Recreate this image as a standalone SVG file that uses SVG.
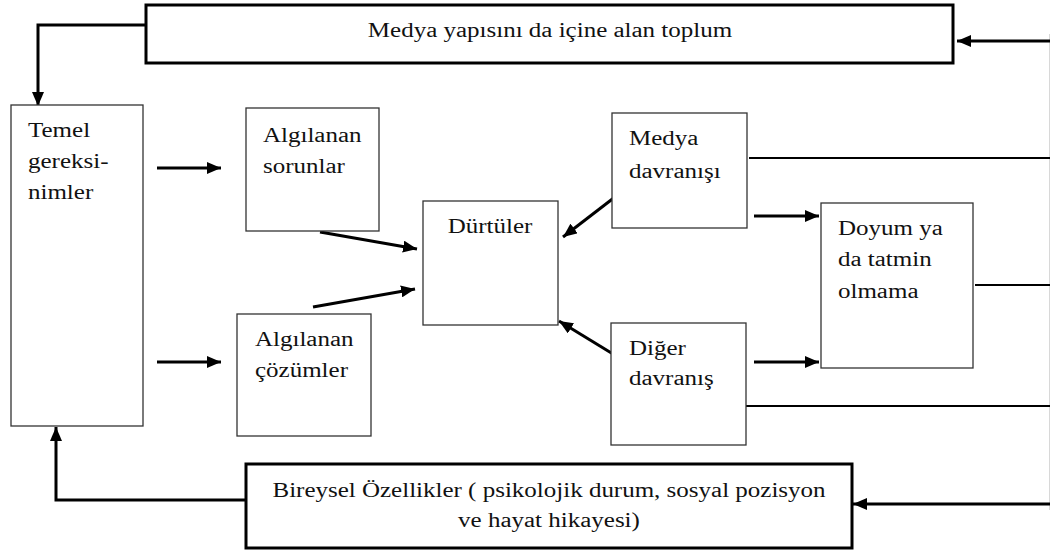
<svg xmlns="http://www.w3.org/2000/svg" width="1050" height="552" viewBox="0 0 1050 552">
<style>
.bg{fill:#ffffff}
.box{fill:#ffffff;stroke:#333333;stroke-width:1.3}
.bigbox{fill:#ffffff;stroke:#000000;stroke-width:3}
.t{font-family:'Liberation Serif','DejaVu Serif',serif;font-size:20px;fill:#111111}
.c{fill:none;stroke:#000000;stroke-width:3}
.l{fill:none;stroke:#000000;stroke-width:2}
.edge{fill:none;stroke:#d8d8d8;stroke-width:1}
</style>
<defs>
<marker id="ah" markerUnits="userSpaceOnUse" viewBox="0 0 14 12" refX="14" refY="6" markerWidth="14" markerHeight="12" orient="auto">
<path d="M0,0 L14,6 L0,12 z" fill="#000000"/>
</marker>
</defs>
<rect class="bg" x="0" y="0" width="1050" height="552"/>

<g id="connectors">
<line class="edge" x1="1049.5" y1="34" x2="1049.5" y2="510"/>
<path class="c" d="M146,25 H38 V106" marker-end="url(#ah)"/>
<path class="c" d="M157,168 H221" marker-end="url(#ah)"/>
<path class="c" d="M157,362 H221" marker-end="url(#ah)"/>
<path class="c" d="M320,232 L417,249" marker-end="url(#ah)"/>
<path class="c" d="M313,307 L415,289" marker-end="url(#ah)"/>
<path class="c" d="M615,197 L563,237" marker-end="url(#ah)"/>
<path class="c" d="M613,354 L559,321" marker-end="url(#ah)"/>
<path class="c" d="M754,216 H819" marker-end="url(#ah)"/>
<path class="c" d="M754,362 H819" marker-end="url(#ah)"/>
<path class="l" d="M749,158 H1050"/>
<path class="l" d="M975,285 H1050"/>
<path class="l" d="M746,406 H1050"/>
<path class="c" d="M1050,41 H957" marker-end="url(#ah)"/>
<path class="c" d="M1050,504 H853" marker-end="url(#ah)"/>
<path class="c" d="M246,500 H56 V427" marker-end="url(#ah)"/>
</g>

<g id="toplum">
<rect class="bigbox" x="146" y="5" width="807" height="58"/>
<text class="t" font-family="Liberation Serif, serif" text-anchor="middle" transform="translate(550,37) scale(1.25,1)">Medya yapısını da içine alan toplum</text>
</g>

<g id="temel">
<rect class="box" x="11" y="105" width="132" height="321"/>
<text class="t" font-family="Liberation Serif, serif" transform="translate(28,137) scale(1.25,1)"><tspan x="0" y="0">Temel</tspan><tspan x="0" y="31">gereksi-</tspan><tspan x="0" y="62">nimler</tspan></text>
</g>

<g id="sorunlar">
<rect class="box" x="246" y="108" width="133" height="123"/>
<text class="t" font-family="Liberation Serif, serif" transform="translate(263,142) scale(1.25,1)"><tspan x="0" y="0">Algılanan</tspan><tspan x="0" y="31">sorunlar</tspan></text>
</g>

<g id="cozumler">
<rect class="box" x="237" y="314" width="134" height="122"/>
<text class="t" font-family="Liberation Serif, serif" transform="translate(255,346) scale(1.25,1)"><tspan x="0" y="0">Algılanan</tspan><tspan x="0" y="31">çözümler</tspan></text>
</g>

<g id="durtuler">
<rect class="box" x="423" y="201" width="135" height="124"/>
<text class="t" font-family="Liberation Serif, serif" text-anchor="middle" transform="translate(490,233) scale(1.25,1)">Dürtüler</text>
</g>

<g id="medya-davranisi">
<rect class="box" x="612" y="113" width="135" height="115"/>
<text class="t" font-family="Liberation Serif, serif" transform="translate(629,145) scale(1.25,1)"><tspan x="0" y="0">Medya</tspan><tspan x="0" y="33">davranışı</tspan></text>
</g>

<g id="diger-davranis">
<rect class="box" x="611" y="323" width="135" height="122"/>
<text class="t" font-family="Liberation Serif, serif" transform="translate(629,355) scale(1.25,1)"><tspan x="0" y="0">Diğer</tspan><tspan x="0" y="30">davranış</tspan></text>
</g>

<g id="doyum">
<rect class="box" x="821" y="203" width="152" height="165"/>
<text class="t" font-family="Liberation Serif, serif" transform="translate(838,235) scale(1.25,1)"><tspan x="0" y="0">Doyum ya</tspan><tspan x="0" y="31">da tatmin</tspan><tspan x="0" y="63">olmama</tspan></text>
</g>

<g id="bireysel">
<rect class="bigbox" x="246" y="464" width="606" height="84"/>
<text class="t" font-family="Liberation Serif, serif" text-anchor="middle" transform="translate(549,497) scale(1.25,1)"><tspan x="0" y="0">Bireysel Özellikler ( psikolojik durum, sosyal pozisyon</tspan><tspan x="0" y="30">ve hayat hikayesi)</tspan></text>
</g>
</svg>
